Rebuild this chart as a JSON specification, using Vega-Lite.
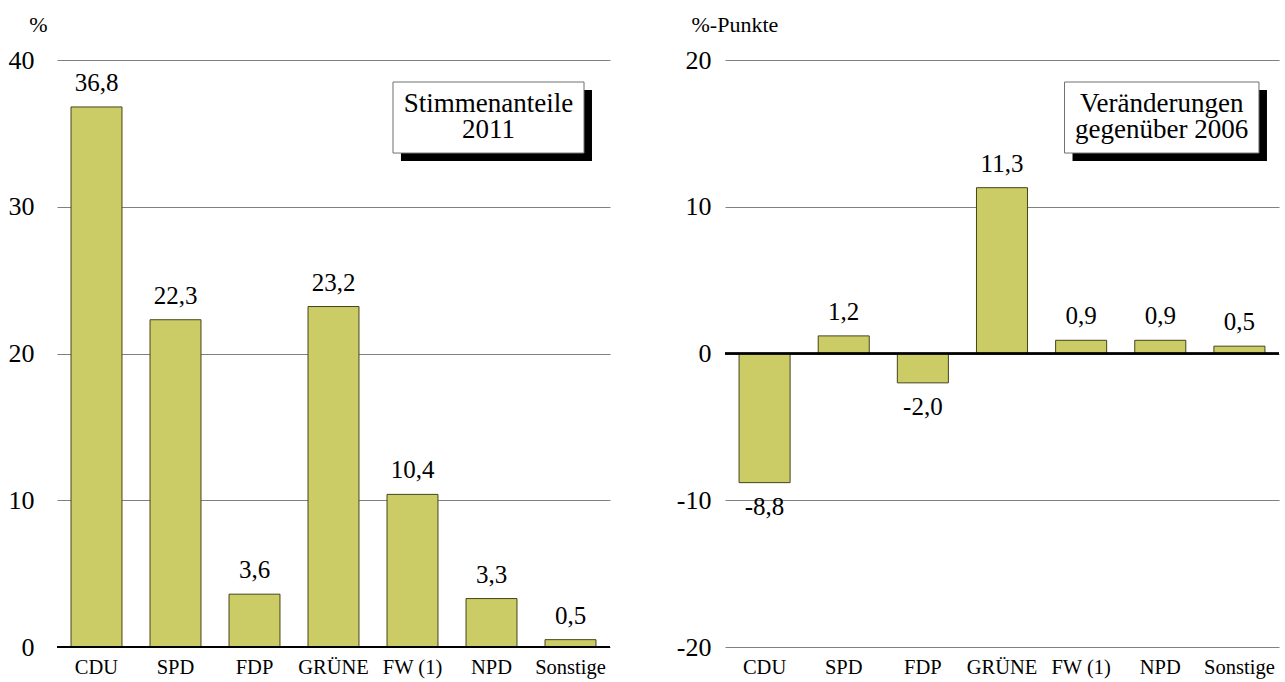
{
  "$schema": "https://vega.github.io/schema/vega-lite/v6.json",
  "padding": {"left": 8, "top": 13, "right": 5, "bottom": 5},
  "bounds": "flush",
  "spacing": 115,
  "background": "white",
  "config": {
    "view": {"stroke": null},
    "font": "Liberation Serif",
    "text": {"font": "Liberation Serif"},
    "locale": {"number": {"decimal": ",", "thousands": ".", "grouping": [3], "currency": ["", " €"], "minus": "-"}},
    "axis": {"labelFont": "Liberation Serif", "titleFont": "Liberation Serif", "labelColor": "black", "titleColor": "black", "titleFontWeight": "normal"}
  },
  "datasets": {
    "anteile": [
      {"partei": "CDU", "wert": 36.8},
      {"partei": "SPD", "wert": 22.3},
      {"partei": "FDP", "wert": 3.6},
      {"partei": "GRÜNE", "wert": 23.2},
      {"partei": "FW (1)", "wert": 10.4},
      {"partei": "NPD", "wert": 3.3},
      {"partei": "Sonstige", "wert": 0.5}
    ],
    "veraenderung": [
      {"partei": "CDU", "wert": -8.8},
      {"partei": "SPD", "wert": 1.2},
      {"partei": "FDP", "wert": -2.0},
      {"partei": "GRÜNE", "wert": 11.3},
      {"partei": "FW (1)", "wert": 0.9},
      {"partei": "NPD", "wert": 0.9},
      {"partei": "Sonstige", "wert": 0.5}
    ],
    "kasten": [{"box": 1}]
  },
  "hconcat": [
    {
      "width": 553,
      "height": 587,
      "resolve": {"scale": {"x": "independent"}},
      "layer": [
        {
          "data": {"name": "anteile"},
          "layer": [
            {
              "mark": {"type": "bar", "fill": "#CCCC66", "stroke": "#44441c", "strokeWidth": 1},
              "encoding": {
                "x": {"field": "partei", "type": "nominal", "sort": null,
                      "scale": {"paddingInner": 0.355, "paddingOuter": 0.1775},
                      "axis": {"title": null, "labelAngle": 0, "labelFontSize": 20.5, "labelPadding": 10, "ticks": false, "domain": false}},
                "y": {"field": "wert", "type": "quantitative",
                      "scale": {"domain": [0, 40], "nice": false},
                      "axis": {"values": [0, 10, 20, 30, 40], "title": "%", "titleAngle": 0, "titleFontSize": 22, "titleAlign": "center", "titleBaseline": "alphabetic", "titleX": -19, "titleY": -29,
                               "labelFontSize": 26, "labelPadding": 23, "ticks": false, "domain": false,
                               "grid": true, "gridColor": "#808080", "gridWidth": 1.2}}
              }
            },
            {
              "mark": {"type": "rule", "color": "black", "strokeWidth": 1.5},
              "encoding": {"y": {"datum": 0}}
            },
            {
              "mark": {"type": "text", "font": "Liberation Serif", "fontSize": 25, "baseline": "alphabetic", "dy": -16, "color": "black"},
              "encoding": {
                "x": {"field": "partei", "type": "nominal", "sort": null},
                "y": {"field": "wert", "type": "quantitative"},
                "text": {"field": "wert", "type": "quantitative", "format": ".1f"}
              }
            }
          ]
        },
        {
          "data": {"name": "kasten"},
          "layer": [
            {
              "mark": {"type": "rect", "fill": "black"},
              "encoding": {
                "x": {"datum": 4.354, "type": "quantitative", "scale": {"domain": [0, 7], "nice": false, "zero": false}, "axis": null},
                "x2": {"datum": 6.772},
                "y": {"datum": 37.955, "type": "quantitative"},
                "y2": {"datum": 33.115}
              }
            },
            {
              "mark": {"type": "rect", "fill": "white", "stroke": "#707070", "strokeWidth": 1},
              "encoding": {
                "x": {"datum": 4.253, "type": "quantitative"},
                "x2": {"datum": 6.671},
                "y": {"datum": 38.5, "type": "quantitative"},
                "y2": {"datum": 33.66}
              }
            },
            {
              "mark": {"type": "text", "font": "Liberation Serif", "fontSize": 27, "align": "center", "baseline": "alphabetic", "color": "black"},
              "encoding": {
                "x": {"datum": 5.462, "type": "quantitative"},
                "y": {"datum": 36.457, "type": "quantitative"},
                "text": {"value": "Stimmenanteile"}
              }
            },
            {
              "mark": {"type": "text", "font": "Liberation Serif", "fontSize": 27, "align": "center", "baseline": "alphabetic", "color": "black"},
              "encoding": {
                "x": {"datum": 5.462, "type": "quantitative"},
                "y": {"datum": 34.664, "type": "quantitative"},
                "text": {"value": "2011"}
              }
            }
          ]
        }
      ]
    },
    {
      "width": 554,
      "height": 587,
      "resolve": {"scale": {"x": "independent"}},
      "layer": [
        {
          "data": {"name": "veraenderung"},
          "layer": [
            {
              "mark": {"type": "bar", "fill": "#CCCC66", "stroke": "#44441c", "strokeWidth": 1},
              "encoding": {
                "x": {"field": "partei", "type": "nominal", "sort": null,
                      "scale": {"paddingInner": 0.355, "paddingOuter": 0.1775},
                      "axis": {"title": null, "labelAngle": 0, "labelFontSize": 20.5, "labelPadding": 10, "ticks": false, "domain": false}},
                "y": {"field": "wert", "type": "quantitative",
                      "scale": {"domain": [-20, 20], "nice": false},
                      "axis": {"values": [-20, -10, 0, 10, 20], "format": "d", "title": "%-Punkte", "titleAngle": 0, "titleFontSize": 22, "titleAlign": "left", "titleBaseline": "alphabetic", "titleX": -34, "titleY": -29,
                               "labelFontSize": 26, "labelPadding": 14, "ticks": false, "domain": false,
                               "grid": true, "gridColor": "#808080", "gridWidth": 1.2}}
              }
            },
            {
              "mark": {"type": "rule", "color": "black", "strokeWidth": 1.5},
              "encoding": {"y": {"datum": 0}}
            },
            {
              "transform": [{"filter": "datum.wert >= 0"}],
              "mark": {"type": "text", "font": "Liberation Serif", "fontSize": 25, "baseline": "alphabetic", "dy": -16, "color": "black"},
              "encoding": {
                "x": {"field": "partei", "type": "nominal", "sort": null},
                "y": {"field": "wert", "type": "quantitative"},
                "text": {"field": "wert", "type": "quantitative", "format": ".1f"}
              }
            },
            {
              "transform": [{"filter": "datum.wert < 0"}],
              "mark": {"type": "text", "font": "Liberation Serif", "fontSize": 25, "baseline": "top", "dy": 12, "color": "black"},
              "encoding": {
                "x": {"field": "partei", "type": "nominal", "sort": null},
                "y": {"field": "wert", "type": "quantitative"},
                "text": {"field": "wert", "type": "quantitative", "format": ".1f"}
              }
            }
          ]
        },
        {
          "data": {"name": "kasten"},
          "layer": [
            {
              "mark": {"type": "rect", "fill": "black"},
              "encoding": {
                "x": {"datum": 4.391, "type": "quantitative", "scale": {"domain": [0, 7], "nice": false, "zero": false}, "axis": null},
                "x2": {"datum": 6.848},
                "y": {"datum": 17.955, "type": "quantitative"},
                "y2": {"datum": 13.115}
              }
            },
            {
              "mark": {"type": "rect", "fill": "white", "stroke": "#707070", "strokeWidth": 1},
              "encoding": {
                "x": {"datum": 4.29, "type": "quantitative"},
                "x2": {"datum": 6.747},
                "y": {"datum": 18.5, "type": "quantitative"},
                "y2": {"datum": 13.66}
              }
            },
            {
              "mark": {"type": "text", "font": "Liberation Serif", "fontSize": 27, "align": "center", "baseline": "alphabetic", "color": "black"},
              "encoding": {
                "x": {"datum": 5.518, "type": "quantitative"},
                "y": {"datum": 16.457, "type": "quantitative"},
                "text": {"value": "Veränderungen"}
              }
            },
            {
              "mark": {"type": "text", "font": "Liberation Serif", "fontSize": 27, "align": "center", "baseline": "alphabetic", "color": "black"},
              "encoding": {
                "x": {"datum": 5.518, "type": "quantitative"},
                "y": {"datum": 14.664, "type": "quantitative"},
                "text": {"value": "gegenüber 2006"}
              }
            }
          ]
        }
      ]
    }
  ]
}
